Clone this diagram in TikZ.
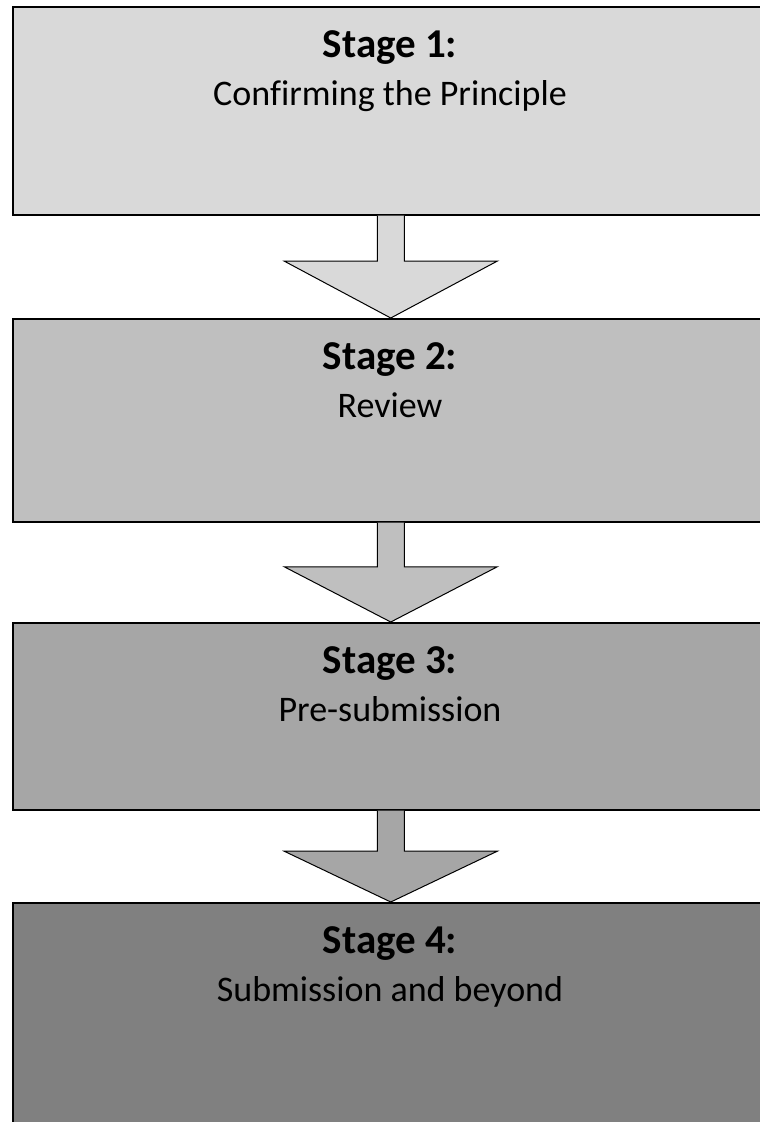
\documentclass[tikz,border=0pt]{standalone}
\usepackage{fontspec}
\setmainfont{Carlito}[Ligatures={NoCommon}]
\usetikzlibrary{calc}
\definecolor{c1}{HTML}{D9D9D9}
\definecolor{c2}{HTML}{BFBFBF}
\definecolor{c3}{HTML}{A6A6A6}
\definecolor{c4}{HTML}{808080}
\tikzset{
  stagebox/.style={draw=black, line width=1.5pt, anchor=north west, inner sep=0pt, minimum width=756pt},
  titletext/.style={font=\fontsize{41}{45}\selectfont\bfseries, anchor=base, inner sep=0pt},
  subtext/.style={font=\fontsize{36}{40}\selectfont, anchor=base, inner sep=0pt},
  flowarrow/.style={draw=black, line width=1pt, line join=miter},
}
\newcommand{\stagearrow}[3]{%
  \path[flowarrow, fill=#3] let \p1=(#1.south), \p2=(#2.north), \n1={\y1+0.445*(\y2-\y1)} in
    (\x1-13.5pt,\y1) -- (\x1-13.5pt,\n1) -- (\x1-106.5pt,\n1) -- (\x2,\y2) --
    (\x1+106.5pt,\n1) -- (\x1+13.5pt,\n1) -- (\x1+13.5pt,\y1);
}
\begin{document}
\begin{tikzpicture}[x=1pt,y=-1pt]
\useasboundingbox (0,0) rectangle (760,1122);
\node[stagebox, fill=c1, minimum height=208pt] (b1) at (12,6) {};
\node[stagebox, fill=c2, minimum height=203pt] (b2) at (12,318) {};
\node[stagebox, fill=c3, minimum height=187pt] (b3) at (12,622) {};
\node[stagebox, fill=c4, minimum height=240pt] (b4) at (12,902) {};
\stagearrow{b1}{b2}{c1}
\stagearrow{b2}{b3}{c2}
\stagearrow{b3}{b4}{c3}
\node[titletext] (t1) at (390,57) {Stage 1:};
\node[subtext] (s1) at (390,105) {Confirming the Principle};
\node[titletext] (t2) at (390,369) {Stage 2:};
\node[subtext] (s2) at (390,417) {Review};
\node[titletext] (t3) at (390,673) {Stage 3:};
\node[subtext] (s3) at (390,721) {Pre-submission};
\node[titletext] (t4) at (390,953) {Stage 4:};
\node[subtext] (s4) at (390,1001) {Submission and beyond};
\end{tikzpicture}
\end{document}
